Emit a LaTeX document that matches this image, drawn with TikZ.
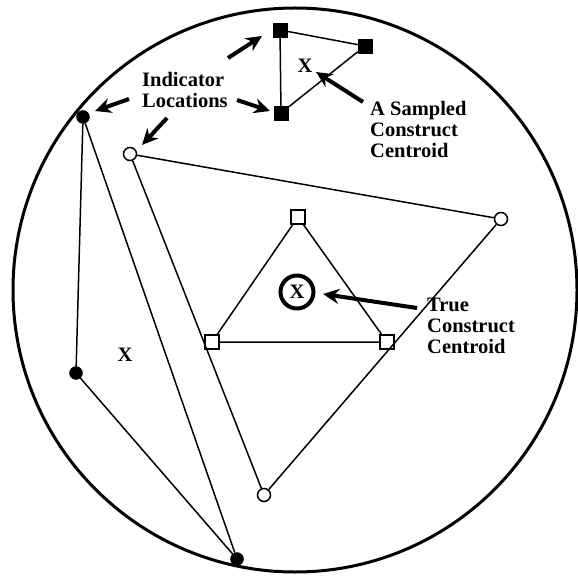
\documentclass[tikz,border=0pt]{standalone}
\usepackage{fontspec}
\setmainfont{Liberation Serif}
\usetikzlibrary{arrows.meta}

\begin{document}
\begin{tikzpicture}[x=1pt, y=-1pt,
    every node/.style={font=\fontsize{20.5}{21}\selectfont\bfseries},
    fsq/.style={draw, fill=black, rectangle, minimum size=14pt, inner sep=0pt},
    fdot/.style={draw, fill=black, circle, minimum size=13pt, inner sep=0pt},
    osq/.style={draw, fill=white, rectangle, minimum size=14pt, inner sep=0pt, line width=1.5pt},
    odot/.style={draw, fill=white, circle, minimum size=13pt, inner sep=0pt, line width=1.5pt},
    link/.style={line width=1.5pt},
    ptr/.style={line width=4pt, -{Stealth[length=16pt, width=15pt]}},
    lbl/.style={align=left, anchor=north west, inner sep=0pt},
    cross/.style={inner sep=0pt}]
    \useasboundingbox (0,0) rectangle (578,577);

    % Outer boundary
    \draw[line width=3pt] (295,290) circle[radius=282];

    % Indicator locations
    \node[fsq] (sqa) at (280,30) {};
    \node[fsq] (sqb) at (365,46) {};
    \node[fsq] (sqc) at (281,113) {};

    \node[fdot] (dota) at (83,117) {};
    \node[fdot] (dotb) at (76,373) {};
    \node[fdot] (dotc) at (237,559) {};

    \node[odot] (ringa) at (130,154) {};
    \node[odot] (ringb) at (501,219) {};
    \node[odot] (ringc) at (264,495) {};

    \node[osq] (boxa) at (298,217) {};
    \node[osq] (boxb) at (212,342) {};
    \node[osq] (boxc) at (387,342) {};

    % Construct triangles
    \draw[link] (sqa) -- (sqb) -- (sqc) -- (sqa);
    \draw[link] (dota) -- (dotb) -- (dotc) -- (dota);
    \draw[link] (ringa) -- (ringb) -- (ringc) -- (ringa);
    \draw[link] (boxa) -- (boxb) -- (boxc) -- (boxa);

    % Centroids
    \node[cross] (xsample) at (305,66) {X};
    \node[cross] (xleft) at (125,355) {X};
    \node[cross, draw, circle, line width=4pt, minimum size=33pt] (xtrue) at (297,292) {X};

    % Labels
    \node[lbl] (indlbl) at (142,72) {Indicator\\Locations};
    \node[lbl] (samplbl) at (370,101) {A Sampled\\Construct\\Centroid};
    \node[lbl] (truelbl) at (427,298) {True\\Construct\\Centroid};

    % Pointers
    \coordinate (pa0) at (228,58);   \coordinate (pa1) at (262,36);
    \coordinate (pb0) at (237,100);  \coordinate (pb1) at (270,111);
    \coordinate (pc0) at (129,99);   \coordinate (pc1) at (95,111);
    \coordinate (pd0) at (167,118);  \coordinate (pd1) at (142,145);
    \coordinate (pe0) at (363,102);  \coordinate (pe1) at (316,72);
    \coordinate (pf0) at (417,308);  \coordinate (pf1) at (323,294);

    \draw[ptr] (pa0) -- (pa1);
    \draw[ptr] (pb0) -- (pb1);
    \draw[ptr] (pc0) -- (pc1);
    \draw[ptr] (pd0) -- (pd1);
    \draw[ptr] (pe0) -- (pe1);
    \draw[ptr] (pf0) -- (pf1);
\end{tikzpicture}
\end{document}
